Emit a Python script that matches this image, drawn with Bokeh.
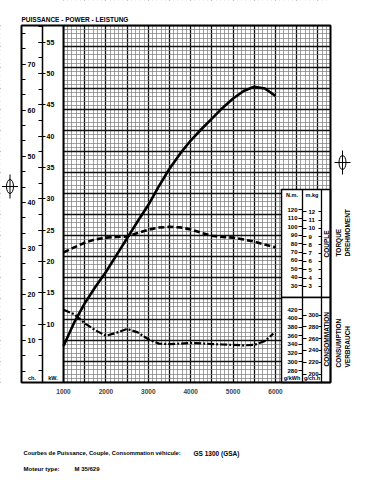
from bokeh.plotting import figure
from bokeh.models import (Range1d, LinearAxis, FixedTicker, SingleIntervalTicker,
                          Grid, Label)
from bokeh.embed import file_html
from bokeh.resources import INLINE

# ---------------- data ----------------
rpm = [1000, 1250, 1500, 1750, 2000, 2250, 2500, 2750, 3000, 3250, 3500,
       3750, 4000, 4250, 4500, 4750, 5000, 5250, 5500, 5750, 6000]
power_kw = [6.5, 10.2, 13.3, 15.9, 18.3, 21.0, 23.7, 26.4, 29.0, 32.0, 34.8,
            37.2, 39.3, 41.1, 42.8, 44.5, 46.0, 47.2, 47.9, 47.6, 46.4]
torque_nm = [69.5, 75.5, 81.0, 85.0, 87.0, 87.8, 88.5, 92.5, 96.5, 99.0, 99.8,
             99.2, 96.8, 92.8, 89.3, 87.8, 87.0, 84.8, 82.3, 78.8, 75.5]
cons_rpm = [1000, 1250, 1500, 1750, 2000, 2250, 2500, 2750, 3000, 3250, 3500,
            3750, 4000, 4250, 4500, 4750, 5000, 5250, 5500, 5750, 5950]
cons_gkwh = [420, 410, 389, 373, 360, 367, 376, 368, 352, 342, 341,
             342, 343.5, 342.5, 341, 340, 339, 338, 339, 348, 365]

x_ticks = [1000, 2000, 3000, 4000, 5000, 6000]
ch_ticks = [10, 20, 30, 40, 50, 60, 70]
kw_ticks = [10, 15, 20, 25, 30, 35, 40, 45, 50, 55]
nm_ticks = [30, 40, 50, 60, 70, 80, 90, 100, 110, 120]
mkg_ticks = [3, 4, 5, 6, 7, 8, 9, 10, 11, 12]
gkwh_ticks = [280, 300, 320, 340, 360, 380, 400, 420]
gch_ticks = [200, 220, 240, 260, 280, 300]

KW_PER_CH = 0.7355
NM_PER_MKG = 9.80665

# ---------------- calibration (pixels of the reference picture) ----------------
def lin(v1, p1, v2, p2):
    k = (v2 - v1) / (p2 - p1)
    return lambda p: v1 + (p - p1) * k

px = lin(1000, 63, 6000, 275)          # x pixel -> rpm
py_kw = lin(55, 41.7, 10, 323.5)       # y pixel -> kW
py_nm = lin(120, 209.3, 30, 285.3)     # y pixel -> N.m
py_g = lin(420, 309.3, 280, 370)       # y pixel -> g/kWh
pp = lin(17, 25, 0, 382)               # y pixel -> paper units (grid rows)

FL, FR, FT, FB = 21, 330, 25, 382      # drawn chart box
CL, CR, CT, CB = 0, 360, 0, 472        # whole canvas
X0, X1 = px(CL), px(CR)
RPM_PER_PX = px(1) - px(0)
ROW_PER_PX = pp(0) - pp(1)

p = figure(width=CR - CL, height=CB - CT, x_range=Range1d(X0, X1),
           y_range=Range1d(pp(CB), pp(CT)),
           output_backend="svg", toolbar_location=None,
           x_axis_location=None, y_axis_location=None,
           min_border_left=0, min_border_right=0, min_border_top=0, min_border_bottom=0)
p.xgrid.visible = False
p.ygrid.visible = False
p.background_fill_color = "white"
p.border_fill_color = "white"
p.outline_line_color = None

p.extra_y_ranges = {
    "kw": Range1d(py_kw(CB), py_kw(CT)),
    "ch": Range1d(py_kw(CB) / KW_PER_CH, py_kw(CT) / KW_PER_CH),
    "nm": Range1d(py_nm(CB), py_nm(CT)),
    "mkg": Range1d(py_nm(CB) / NM_PER_MKG, py_nm(CT) / NM_PER_MKG),
    "g": Range1d(py_g(CB), py_g(CT)),
    "gch": Range1d(py_g(CB) * KW_PER_CH, py_g(CT) * KW_PER_CH),
}

# graph paper
vgrid = Grid(dimension=0, ticker=SingleIntervalTicker(interval=500, num_minor_ticks=5),
             bounds=(1000, px(FR)), grid_line_color="#111111", grid_line_width=1.3,
             minor_grid_line_color="#7a7a7a", minor_grid_line_width=0.7)
hgrid = Grid(dimension=1, ticker=SingleIntervalTicker(interval=1, num_minor_ticks=5),
             bounds=(0, 17), grid_line_color="#111111", grid_line_width=1.3,
             minor_grid_line_color="#7a7a7a", minor_grid_line_width=0.7)
p.add_layout(vgrid)
p.add_layout(hgrid)

# white margins, left scale columns and right panels
p.quad(left=[X0, px(FR), X0, X0], right=[1000, X1, X1, X1],
       bottom=[pp(CB), pp(CB), pp(FT), pp(CB)], top=[pp(CT), pp(CT), pp(CT), pp(FB)],
       fill_color="white", line_color=None)
p.quad(left=[px(281), px(281)], right=[px(FR), px(FR)], bottom=[pp(297), 0],
       top=[pp(189), pp(297)], fill_color="white", line_color="black", line_width=1.5)
# chart box
p.quad(left=px(FL), right=px(FR), bottom=pp(FB), top=pp(FT), fill_color=None,
       line_color="black", line_width=2)
# column separators
p.segment(x0=[px(42), 1000, px(302), px(321)], y0=[0, 0, 0, 0],
          x1=[px(42), 1000, px(302), px(321)], y1=[17, 17, pp(189), pp(189)],
          line_color="black", line_width=[1.5, 2.0, 1.3, 1.3])

# registration marks in the margins
marks_x = [9.5, 342]
marks_y = [186, 162]
p.ellipse(x=[px(v) for v in marks_x], y=[pp(v) for v in marks_y],
          width=7 * RPM_PER_PX, height=14 * ROW_PER_PX,
          fill_color=None, line_color="black", line_width=1)
p.segment(x0=[px(v) for v in marks_x] + [px(v - 8) for v in marks_x],
          y0=[pp(v - 12) for v in marks_y] + [pp(v) for v in marks_y],
          x1=[px(v) for v in marks_x] + [px(v + 8) for v in marks_x],
          y1=[pp(v + 12) for v in marks_y] + [pp(v) for v in marks_y],
          line_color="black", line_width=1)

FONT = "Liberation Sans"

def add_axis(side, rname, loc, ticks, minor=None, out=4, tin=0, mout=0, min_=0,
             labels=True, standoff=2, size="6.5px"):
    ax = LinearAxis(y_range_name=rname, fixed_location=loc,
                    ticker=FixedTicker(ticks=ticks, minor_ticks=minor or []))
    ax.axis_line_color = None
    ax.major_tick_out = out
    ax.major_tick_in = tin
    ax.minor_tick_out = mout
    ax.minor_tick_in = min_
    ax.major_tick_line_color = "black"
    ax.minor_tick_line_color = "black"
    ax.major_tick_line_width = 1
    ax.minor_tick_line_width = 1
    ax.major_label_standoff = standoff
    ax.major_label_text_font = FONT
    ax.major_label_text_font_style = "bold"
    ax.major_label_text_font_size = size
    ax.major_label_text_color = "black" if labels else None
    p.add_layout(ax, side)
    return ax

ch_minor = [round(k * 10 / 3, 4) for k in range(1, 24)]
kw_minor = [2.5 * k for k in range(1, 24)]
add_axis("right", "ch", px(FL), ch_ticks, ch_minor, out=4, mout=4, standoff=2, size="7px")
add_axis("right", "kw", px(42), kw_ticks, kw_minor, out=3, tin=4, min_=4, standoff=1, size="7px")
add_axis("left", "nm", px(302), nm_ticks, out=4, standoff=1, size="6px")
add_axis("right", "mkg", px(302), mkg_ticks, out=4, standoff=2, size="6px")
add_axis("left", "mkg", px(321), mkg_ticks, out=3, labels=False)
add_axis("left", "g", px(302), gkwh_ticks, out=4, standoff=1, size="6px")
add_axis("right", "gch", px(302), gch_ticks, out=4, standoff=2, size="6px")
add_axis("left", "gch", px(321), gch_ticks, out=3, labels=False)

xa = LinearAxis(ticker=FixedTicker(ticks=x_ticks), fixed_location=0)
xa.axis_line_color = None
xa.major_tick_out = 0
xa.major_tick_in = 0
xa.minor_tick_out = 0
xa.major_label_standoff = 6
xa.major_label_text_font = FONT
xa.major_label_text_font_style = "bold"
xa.major_label_text_font_size = "6.5px"
p.add_layout(xa, "below")

# curves
p.line(rpm, power_kw, y_range_name="kw", line_color="black", line_width=2.6)
p.line(rpm, torque_nm, y_range_name="nm", line_color="black", line_width=2.6,
       line_dash="6 3")
p.line(cons_rpm, cons_gkwh, y_range_name="g", line_color="black", line_width=2.2,
       line_dash="7 2 2 2")

def lab(x, y, text, size="6.5px", align="left", angle=0, baseline="middle"):
    p.add_layout(Label(x=px(x), y=pp(y), text=text, text_font=FONT,
                       text_font_style="bold", text_font_size=size,
                       text_align=align, text_baseline=baseline,
                       angle=angle, angle_units="deg", text_color="black"))

lab(21, 19, "PUISSANCE - POWER - LEISTUNG")
lab(23, 452.7, "Courbes de Puissance, Couple, Consommation véhicule:", size="5.8px")
lab(193, 452.7, "GS 1300 (GSA)", size="6.5px")
lab(23, 468, "Moteur type:", size="6px")
lab(74, 468, "M 35/629", size="6px")

lab(291.5, 194, "N.m.", size="5.5px", align="center")
lab(311.5, 194, "m.kg", size="5.5px", align="center")
lab(291.5, 377, "g/kWh", size="5.5px", align="center")
lab(311.5, 377, "g/ch.h", size="5.5px", align="center")
lab(31.5, 377, "ch.", size="5.5px", align="center")
lab(52.5, 377, "kW.", size="5.5px", align="center")

lab(325.5, 257, "COUPLE", angle=90)
lab(338, 256, "TORQUE", angle=90)
lab(346.5, 256, "DREHMOMENT", angle=90)
lab(325.5, 366, "CONSOMMATION", angle=90)
lab(338, 367, "CONSUMPTION", angle=90)
lab(346.5, 367, "VERBRAUCH", angle=90)

open("out.html", "w").write(file_html(p, INLINE))
